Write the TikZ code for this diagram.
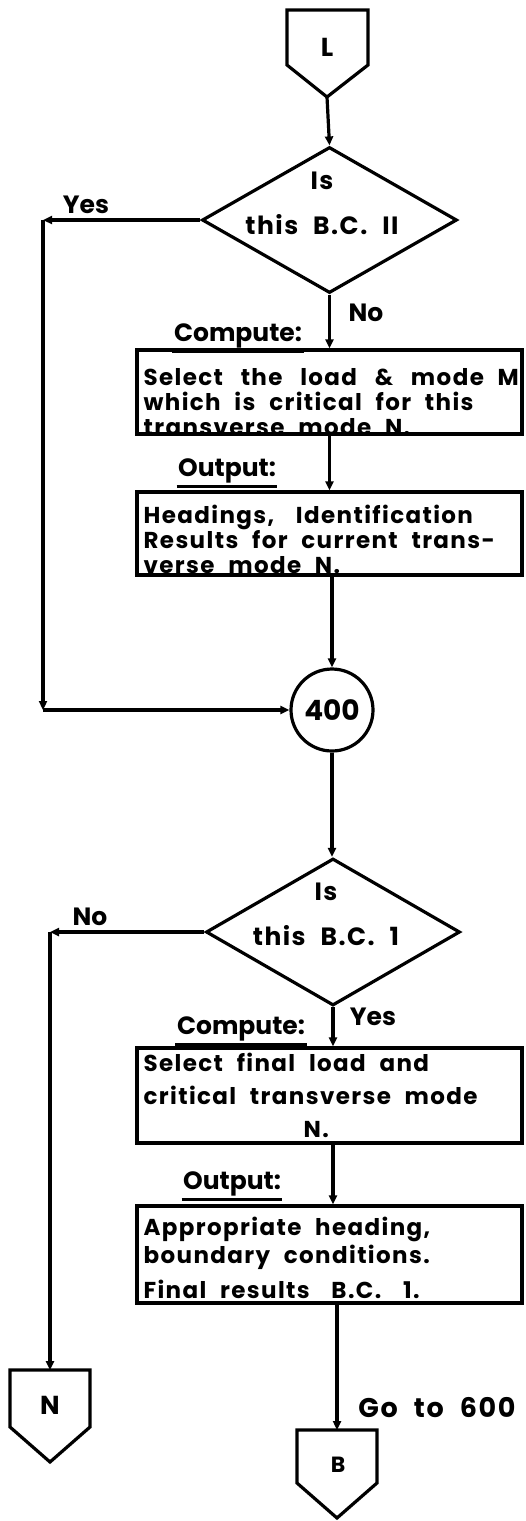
\documentclass[tikz,border=0pt]{standalone}
\usepackage{fontspec}
\setmainfont{Poppins}
\newfontfamily\wideface[LetterSpace=6,WordSpace=2.2]{Poppins}
\newcommand\wsp{\hspace{4pt}}
\usetikzlibrary{arrows.meta,shapes.geometric}
\begin{document}
\begin{tikzpicture}[x=1pt,y=-1pt,
  line width=3.2pt, line join=miter,
  flow/.style={-{Triangle[length=9pt,width=8pt]}},
  body/.style={font=\wideface\fontsize{23}{25}\selectfont\bfseries, inner sep=0pt, align=left, anchor=west},
  lab/.style={font=\fontsize{25}{28}\selectfont\bfseries, inner sep=0pt},
  uline/.style={line width=2.6pt},
  dtext/.style={font=\wideface\fontsize{25}{45}\selectfont\bfseries, align=center, inner sep=0pt},
  conn/.style={font=\fontsize{26}{28}\selectfont\bfseries, inner sep=0pt},
  procbox/.style={draw, rectangle, minimum width=385pt, minimum height=#1, inner sep=0pt},
  decision/.style={draw, diamond, minimum width=255pt, minimum height=146pt, inner sep=0pt},
]
\useasboundingbox (0,0) rectangle (526,1521);

% connector L
\draw (287,10) -- (368,10) -- (368,65) -- (327,97) -- (287,65) -- cycle;
\node[conn] (L) at (327,47) {L};
\coordinate (Lb) at (327,97);

% decision 1
\node[decision] (d1) at (329.5,220) {};
\node[dtext] (d1t) at (322,203) {Is\\this B.C. II};

% box 1
\node[procbox=84pt] (b1) at (329.5,392) {};
\node[body] (b1t) at (142,402) {Select\wsp{} the\wsp{} load\wsp{} \&\wsp{} mode M\\which is critical for this\\transverse mode N.};

% box 2
\node[procbox=83pt] (b2) at (329.5,533.5) {};
\node[body] (b2t) at (142,539) {Headings,\wsp{}\wsp{} Identification\\Results for current trans-\\verse mode N.};

% circle 400
\node[draw, circle, minimum size=82pt, inner sep=0pt, font=\fontsize{28}{30}\selectfont\bfseries] (c400) at (332,710) {400};

% decision 2
\node[decision, minimum width=254pt, minimum height=147pt] (d2) at (333,932) {};
\node[dtext] (d2t) at (326,914) {Is\\this B.C. 1};

% box 3
\node[procbox=95pt] (b3) at (329.5,1095.5) {};
\node[body] (b3t) at (142,1095) {Select final load and\\[8pt]critical transverse mode\\[8pt]\hspace*{160pt}N.};

% box 4
\node[procbox=97pt] (b4) at (329.5,1254.5) {};
\node[body] (b4t) at (142,1258) {Appropriate heading,\\[3pt]boundary conditions.\\[10pt]Final results\wsp{}\wsp{} B.C.\wsp{}\wsp{} 1.};

% connectors N and B
\draw (10,1370) -- (90,1370) -- (90,1427) -- (50,1462) -- (10,1427) -- cycle;
\node[conn] (N) at (50,1405) {N};
\coordinate (Nt) at (50,1370);
\draw (297,1430) -- (377,1430) -- (377,1483) -- (337,1518) -- (297,1483) -- cycle;
\node[conn, font=\fontsize{22}{24}\selectfont\bfseries] (B) at (338,1465) {B};
\coordinate (Bt) at (337,1430);

% corner coordinates
\coordinate (c1) at (43,220);
\coordinate (c2) at (43,710);
\coordinate (c3) at (50,932);

% edges
\draw[flow] (Lb) -- (d1.north);
\draw[flow] (d1.west) -- (c1);
\draw[flow] (c1) -- (c2);
\draw[flow] (c2) -- (c400.west);
\draw[flow] (d1.south) -- (d1.south |- b1.north);
\draw[flow] (b1.south -| d1.south) -- (d1.south |- b2.north);
\draw[flow] (b2.south -| c400.north) -- (c400.north);
\draw[flow] (c400.south) -- (c400.south |- d2.north);
\draw[flow] (d2.west) -- (c3);
\draw[flow] (c3) -- (Nt);
\draw[flow] (d2.south) -- (d2.south |- b3.north);
\draw[flow] (b3.south -| d2.south) -- (d2.south |- b4.north);
\draw[flow] (b4.south -| Bt) -- (Bt);

% labels
\node[lab] (yes1) at (86,205) {Yes};
\node[lab] (no1) at (366,313) {No};
\node[lab] (comp1) at (238,336) {Compute:};
\node[lab] (out1) at (227,471) {Output:};
\node[lab] (no2) at (90,917) {No};
\node[lab] (yes2) at (373,1017) {Yes};
\node[lab] (comp2) at (241,1029) {Compute:};
\node[lab] (out2) at (232,1184) {Output:};
\node[lab, font=\wideface\fontsize{27}{28}\selectfont\bfseries] (goto) at (437,1408) {Go to 600};
\draw[uline] ([yshift=-1.5pt]comp1.south west) -- ([yshift=-1.5pt]comp1.south east);
\draw[uline] ([yshift=-1.5pt]out1.south west) -- ([yshift=-1.5pt]out1.south east);
\draw[uline] ([yshift=-1.5pt]comp2.south west) -- ([yshift=-1.5pt]comp2.south east);
\draw[uline] ([yshift=-1.5pt]out2.south west) -- ([yshift=-1.5pt]out2.south east);
\end{tikzpicture}
\end{document}
